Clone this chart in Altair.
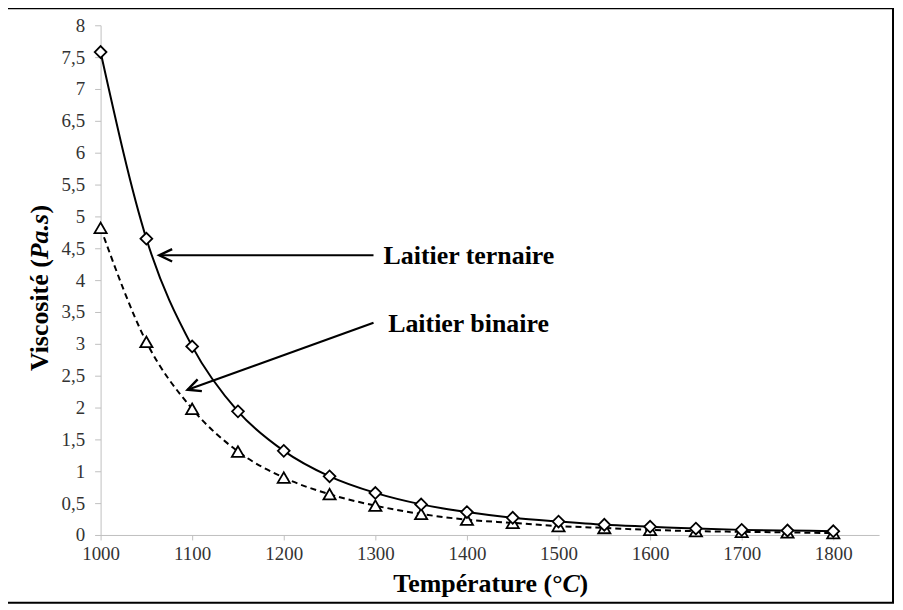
import altair as alt
import pandas as pd

# ---- data ----
temperature = [1000, 1050, 1100, 1150, 1200, 1250, 1300, 1350, 1400,
               1450, 1500, 1550, 1600, 1650, 1700, 1750, 1800]
ternaire = [7.58, 4.65, 2.96, 1.94, 1.32, 0.92, 0.66, 0.48, 0.36,
            0.27, 0.21, 0.16, 0.13, 0.10, 0.08, 0.07, 0.06]
binaire = [4.82, 3.03, 1.98, 1.31, 0.90, 0.64, 0.46, 0.33, 0.24,
           0.19, 0.14, 0.11, 0.08, 0.06, 0.05, 0.04, 0.03]

x_ticks = [1000, 1100, 1200, 1300, 1400, 1500, 1600, 1700, 1800]
y_ticks = [0, 0.5, 1, 1.5, 2, 2.5, 3, 3.5, 4, 4.5, 5, 5.5, 6, 6.5, 7, 7.5, 8]

labels = ["Laitier ternaire", "Laitier binaire"]
label_T = [1309, 1314]
label_V = [4.25, 3.19]
arrow_tail_T = [1298, 1298]
arrow_tail_V = [4.39, 3.33]
arrow_tip_T = [1064, 1095]
arrow_tip_V = [4.39, 2.28]
arrow_angle = [0, 340]

# ---- chart ----
W, H = 782, 512
FONT = "Liberation Serif"
AXIS_GRAY = "#bfbfbf"
TITLE_SIZE = 26
LABEL_SIZE = 19

xs = alt.Scale(domain=[1000, 1850], nice=False, zero=False)
ys = alt.Scale(domain=[0, 8], nice=False)

X = alt.X("T:Q", scale=xs, axis=alt.Axis(
    values=x_ticks, title=None, grid=False, format="d",
    domainColor=AXIS_GRAY, tickColor=AXIS_GRAY, tickSize=5,
    labelFont=FONT, labelFontSize=LABEL_SIZE, labelColor="#333333",
    labelPadding=5, labelFlush=False))
Y = alt.Y("V:Q", scale=ys, axis=alt.Axis(
    values=y_ticks, title=None, grid=False,
    labelExpr="replace(format(datum.value, '.1~f'), '.', ',')",
    domainColor=AXIS_GRAY, tickColor=AXIS_GRAY, tickSize=6,
    labelFont=FONT, labelFontSize=LABEL_SIZE, labelColor="#333333",
    labelPadding=10, labelFlush=False))

df_t = pd.DataFrame({"T": temperature, "V": ternaire})
df_b = pd.DataFrame({"T": temperature, "V": binaire})

line_t = alt.Chart(df_t).mark_line(color="black", strokeWidth=2,
                                   interpolate="monotone").encode(x=X, y=Y)
line_b = alt.Chart(df_b).mark_line(color="black", strokeWidth=2,
                                   strokeDash=[6, 4],
                                   interpolate="monotone").encode(x=X, y=Y)
pts_t = alt.Chart(df_t).mark_point(shape="diamond", size=140, filled=True,
                                   fill="white", stroke="black",
                                   strokeWidth=1.8, opacity=1).encode(x=X, y=Y)
pts_b = alt.Chart(df_b).mark_point(shape="triangle-up", size=150, filled=True,
                                   fill="white", stroke="black",
                                   strokeWidth=1.8, opacity=1).encode(x=X, y=Y)

df_arrow = pd.DataFrame({"T": arrow_tail_T, "V": arrow_tail_V,
                         "T2": arrow_tip_T, "V2": arrow_tip_V})
arrow_lines = alt.Chart(df_arrow).mark_rule(color="black", strokeWidth=2.2).encode(
    x=X, y=Y, x2="T2:Q", y2="V2:Q")

df_head = pd.DataFrame({"T": arrow_tip_T, "V": arrow_tip_V, "angle": arrow_angle})
head_path = "M 1 -0.48 L 0 0 L 1 0.48"
arrow_heads = alt.Chart(df_head).mark_point(
    shape=head_path, size=676, filled=False, stroke="black",
    strokeWidth=2.4, opacity=1).encode(
    x=X, y=Y, angle=alt.Angle("angle:Q", scale=None))

df_lab = pd.DataFrame({"T": label_T, "V": label_V, "label": labels})
annot = alt.Chart(df_lab).mark_text(
    font=FONT, fontSize=26, fontWeight="bold", align="left",
    baseline="alphabetic", color="black").encode(x=X, y=Y, text="label:N")

one = pd.DataFrame({"a": [0]})
def title_piece(text, x, y, align, italic=False, angle=0):
    kw = dict(font=FONT, fontSize=TITLE_SIZE, fontWeight="bold", align=align,
              baseline="alphabetic", color="black", text=text)
    if italic:
        kw["fontStyle"] = "italic"
    if angle:
        kw["angle"] = angle
    return alt.Chart(one).mark_text(**kw).encode(x=alt.value(x), y=alt.value(y))

xt1 = title_piece("Température (°", 464, 569, "right")
xt2 = title_piece("C", 464, 569, "left", italic=True)
xt3 = title_piece(")", 481, 569, "left")
yt1 = title_piece("Viscosité (", -53, 235, "right", angle=270)
yt2 = title_piece("Pa.s", -53, 235, "left", italic=True, angle=270)
yt3 = title_piece(")", -53, 189, "left", angle=270)

border = alt.Chart(one).mark_rect(fillOpacity=0, stroke="black",
                                  strokeWidth=2).encode(
    x=alt.value(-94), x2=alt.value(796), y=alt.value(-17), y2=alt.value(580))

chart = alt.layer(
    border, line_b, line_t, arrow_lines, arrow_heads, pts_b, pts_t, annot,
    xt1, xt2, xt3, yt1, yt2, yt3
).properties(
    width=W, height=H,
    autosize=alt.AutoSizeParams(type="none"),
    padding={"left": 93, "top": 16, "right": 16, "bottom": 70},
    background="white",
).configure_view(strokeWidth=0).configure_axis(
    labelFont=FONT, labelFontSize=LABEL_SIZE, labelColor="#333333")

chart.save("out.html", embed_options={"renderer": "svg", "actions": False})
